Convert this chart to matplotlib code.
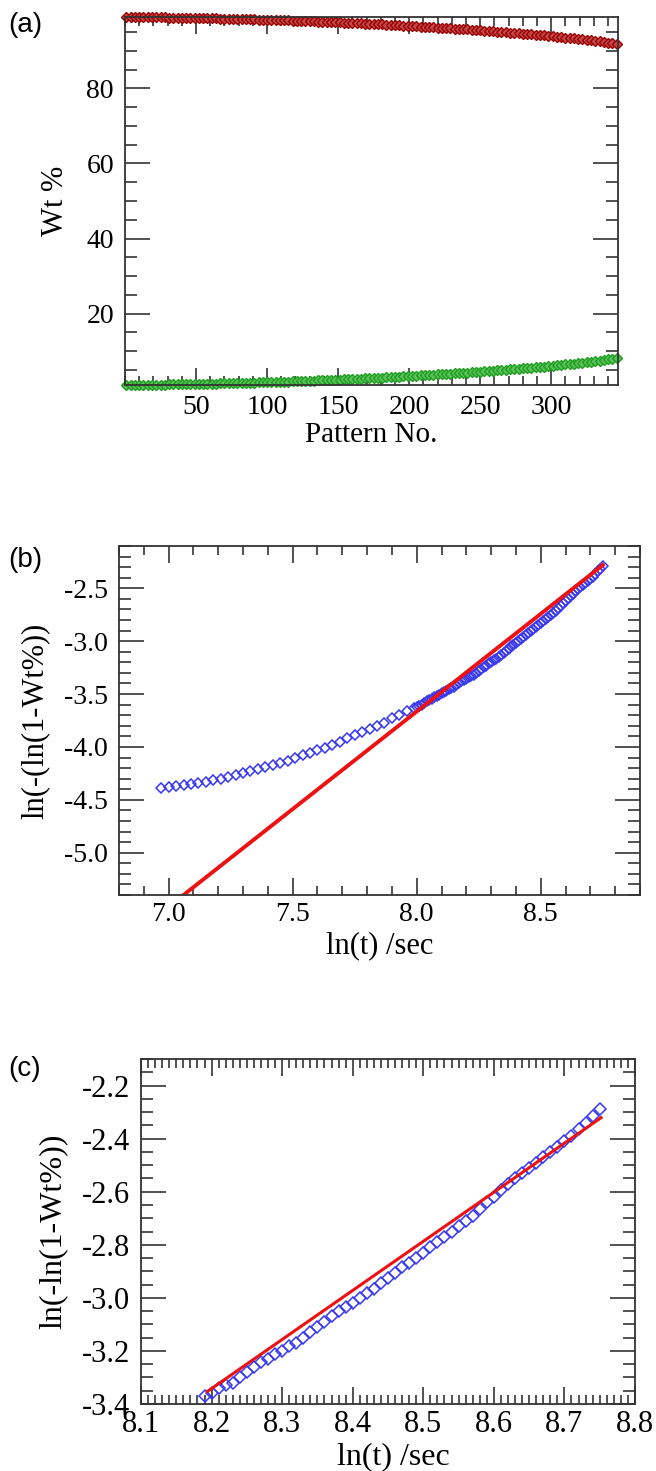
import matplotlib
matplotlib.use("Agg")
import numpy as np
import matplotlib.pyplot as plt
from matplotlib.ticker import MultipleLocator, FormatStrFormatter, FixedLocator

plt.rcParams['font.family'] = ['Liberation Serif', 'DejaVu Serif']
plt.rcParams['axes.unicode_minus'] = False

# ---- panel (a): phase weight fractions vs pattern number ----
pattern_no = [1, 4, 7, 10, 13, 16, 19, 22, 25, 28, 31, 34, 37, 40, 43, 46, 49, 52, 55, 58,
              61, 64, 67, 70, 73, 76, 79, 82, 85, 88, 91, 94, 97, 100, 103, 106, 109, 112,
              115, 118, 121, 124, 127, 130, 133, 136, 139, 142, 145, 148, 151, 154, 157, 160,
              163, 166, 169, 172, 175, 178, 181, 184, 187, 190, 193, 196, 199, 202, 205, 208,
              211, 214, 217, 220, 223, 226, 229, 232, 235, 238, 241, 244, 247, 250, 253, 256,
              259, 262, 265, 268, 271, 274, 277, 280, 283, 286, 289, 292, 295, 298, 301, 304,
              307, 310, 313, 316, 319, 322, 325, 328, 331, 334, 337, 340, 343, 346]
wt_parent = [99.00, 98.99, 98.98, 98.96, 98.95, 98.94, 98.93, 98.91, 98.90, 98.88, 98.86, 98.84,
             98.82, 98.80, 98.78, 98.76, 98.74, 98.71, 98.69, 98.66, 98.64, 98.62, 98.59, 98.56,
             98.53, 98.50, 98.47, 98.44, 98.41, 98.38, 98.35, 98.32, 98.29, 98.25, 98.22, 98.18,
             98.14, 98.11, 98.07, 98.03, 97.99, 97.95, 97.91, 97.86, 97.82, 97.78, 97.73, 97.68,
             97.64, 97.59, 97.54, 97.49, 97.44, 97.40, 97.34, 97.29, 97.24, 97.18, 97.13, 97.07,
             97.02, 96.96, 96.90, 96.84, 96.78, 96.72, 96.66, 96.60, 96.53, 96.47, 96.40, 96.33,
             96.27, 96.20, 96.13, 96.06, 95.99, 95.92, 95.84, 95.77, 95.69, 95.61, 95.53, 95.46,
             95.37, 95.29, 95.21, 95.12, 95.04, 94.95, 94.86, 94.77, 94.68, 94.58, 94.49, 94.39,
             94.29, 94.19, 94.08, 93.98, 93.87, 93.76, 93.64, 93.52, 93.40, 93.28, 93.15, 93.03,
             92.89, 92.76, 92.62, 92.48, 92.33, 92.18, 92.03, 91.87]
wt_new = [1.00, 1.01, 1.02, 1.04, 1.05, 1.06, 1.07, 1.09, 1.10, 1.12, 1.14, 1.16, 1.18, 1.20,
          1.22, 1.24, 1.26, 1.29, 1.31, 1.34, 1.36, 1.38, 1.41, 1.44, 1.47, 1.50, 1.53, 1.56,
          1.59, 1.62, 1.65, 1.68, 1.71, 1.75, 1.78, 1.82, 1.86, 1.89, 1.93, 1.97, 2.01, 2.05,
          2.09, 2.14, 2.18, 2.22, 2.27, 2.32, 2.36, 2.41, 2.46, 2.51, 2.56, 2.60, 2.66, 2.71,
          2.76, 2.82, 2.87, 2.93, 2.98, 3.04, 3.10, 3.16, 3.22, 3.28, 3.34, 3.40, 3.47, 3.53,
          3.60, 3.67, 3.73, 3.80, 3.87, 3.94, 4.01, 4.08, 4.16, 4.23, 4.31, 4.39, 4.47, 4.54,
          4.63, 4.71, 4.79, 4.88, 4.96, 5.05, 5.14, 5.23, 5.32, 5.42, 5.51, 5.61, 5.71, 5.81,
          5.92, 6.02, 6.13, 6.24, 6.36, 6.48, 6.60, 6.72, 6.85, 6.97, 7.11, 7.24, 7.38, 7.52,
          7.67, 7.82, 7.97, 8.13]

# ---- panels (b), (c): Avrami plot ----
ln_t = [6.97, 7.00, 7.03, 7.06, 7.09, 7.12, 7.15, 7.18, 7.21, 7.24, 7.27, 7.30, 7.33, 7.36,
        7.39, 7.42, 7.45, 7.48, 7.51, 7.54, 7.57, 7.60, 7.63, 7.66, 7.69, 7.72, 7.75, 7.78,
        7.81, 7.84, 7.87, 7.90, 7.93, 7.96, 7.99,
        8.00, 8.01, 8.02, 8.03, 8.04, 8.05, 8.06, 8.07, 8.08, 8.09, 8.10, 8.11, 8.12, 8.13,
        8.14, 8.15, 8.16, 8.17, 8.18, 8.19, 8.20, 8.21, 8.22, 8.23, 8.24, 8.25, 8.26, 8.27,
        8.28, 8.29, 8.30, 8.31, 8.32, 8.33, 8.34, 8.35, 8.36, 8.37, 8.38, 8.39, 8.40, 8.41,
        8.42, 8.43, 8.44, 8.45, 8.46, 8.47, 8.48, 8.49, 8.50, 8.51, 8.52, 8.53, 8.54, 8.55,
        8.56, 8.57, 8.58, 8.59, 8.60, 8.61, 8.62, 8.63, 8.64, 8.65, 8.66, 8.67, 8.68, 8.69,
        8.70, 8.71, 8.72, 8.73, 8.74, 8.75]
avrami = [-4.39, -4.38, -4.37, -4.36, -4.35, -4.34, -4.33, -4.31, -4.30, -4.28, -4.27, -4.25,
          -4.23, -4.21, -4.19, -4.17, -4.15, -4.13, -4.10, -4.08, -4.06, -4.03, -4.01, -3.98,
          -3.95, -3.92, -3.89, -3.86, -3.83, -3.80, -3.77, -3.73, -3.70, -3.66, -3.63,
          -3.62, -3.61, -3.60, -3.58, -3.57, -3.56, -3.55, -3.53, -3.52, -3.51, -3.49, -3.48,
          -3.47, -3.45, -3.44, -3.43, -3.41, -3.40, -3.38, -3.37, -3.36, -3.34, -3.33, -3.32,
          -3.30, -3.28, -3.26, -3.24, -3.23, -3.21, -3.20, -3.18, -3.17, -3.15, -3.13, -3.11,
          -3.09, -3.07, -3.05, -3.035, -3.02, -3.00, -2.98, -2.965, -2.945, -2.925, -2.905,
          -2.885, -2.87, -2.85, -2.83, -2.81, -2.79, -2.77, -2.75, -2.73, -2.71, -2.69, -2.665,
          -2.64, -2.62, -2.595, -2.57, -2.55, -2.53, -2.51, -2.49, -2.47, -2.45, -2.43, -2.41,
          -2.39, -2.365, -2.34, -2.315, -2.29]

# linear fits (end points of the red lines)
fit_b_x = [7.06, 8.75]
fit_b_y = [-5.40, -2.28]
fit_c_x = [8.194, 8.752]
fit_c_y = [-3.353, -2.321]
fit_c_start = 8.19

W, H = 656, 1471
fig = plt.figure(figsize=(W / 100, H / 100), dpi=100)


def box(x0, y0, x1, y1):
    # pixel box -> figure fraction
    return [x0 / W, 1 - y1 / H, (x1 - x0) / W, (y1 - y0) / H]


def style(ax, size):
    ax.tick_params(which='both', direction='in', top=True, right=True, width=1.2,
                   color='#333333', labelsize=size)
    ax.tick_params(axis='x', which='major', length=12, pad=6)
    ax.tick_params(axis='x', which='minor', length=6.5)
    ax.tick_params(axis='y', which='major', length=18, pad=8)
    ax.tick_params(axis='y', which='minor', length=8.5)
    for s in ax.spines.values():
        s.set_linewidth(1.3)
        s.set_color('#333333')


# (a)
ax1 = fig.add_axes(box(125, 17, 618, 385))
ax1.plot(pattern_no, wt_parent, 'D', ms=5.5, mfc='#c04848', mec='#9c0000', mew=1.0, clip_on=False)
ax1.plot(pattern_no, wt_new, 'D', ms=5.5, mfc='#5cc05c', mec='#1e9e1e', mew=1.0, clip_on=False)
ax1.set_xlim(0, 347)
ax1.set_ylim(1.0, 99.0)
ax1.xaxis.set_major_locator(FixedLocator([50, 100, 150, 200, 250, 300]))
ax1.xaxis.set_minor_locator(MultipleLocator(10))
ax1.yaxis.set_major_locator(FixedLocator([20, 40, 60, 80]))
ax1.yaxis.set_minor_locator(MultipleLocator(5))
style(ax1, 20)
ax1.tick_params(axis='x', which='major', pad=7.5)
ax1.set_xlabel('Pattern No.', fontsize=21, va='center')
ax1.xaxis.set_label_coords(0.5, -0.136)
ax1.set_ylabel('Wt %', fontsize=22, va='center')
ax1.yaxis.set_label_coords(-0.140, 0.5)

# (b)
ax2 = fig.add_axes(box(119, 546, 640, 895))
ax2.plot(ln_t, avrami, 'D', ms=5.5, mfc='none', mec='#3838ee', mew=1.1)
ax2.plot(fit_b_x, fit_b_y, '-', color='#ee1111', lw=2.8)
ax2.set_xlim(6.8, 8.9)
ax2.set_ylim(-5.4, -2.1)
ax2.xaxis.set_major_locator(MultipleLocator(0.5))
ax2.xaxis.set_minor_locator(MultipleLocator(0.1))
ax2.yaxis.set_major_locator(MultipleLocator(0.5))
ax2.yaxis.set_minor_locator(MultipleLocator(0.1))
ax2.xaxis.set_major_formatter(FormatStrFormatter('%.1f'))
ax2.yaxis.set_major_formatter(FormatStrFormatter('%.1f'))
style(ax2, 20)
ax2.tick_params(axis='x', which='major', pad=5)
ax2.set_xlabel('ln(t) /sec', fontsize=22, va='center')
ax2.xaxis.set_label_coords(0.5, -0.145)
ax2.set_ylabel('ln(-(ln(1-Wt%))', fontsize=22, va='center')
ax2.yaxis.set_label_coords(-0.161, 0.5)

# (c)
x_arr = np.array(ln_t)
y_arr = np.array(avrami)
keep = x_arr >= fit_c_start
ax3 = fig.add_axes(box(141, 1059, 635, 1404))
ax3.plot(x_arr[keep], y_arr[keep], 'D', ms=6.5, mfc='none', mec='#3838ee', mew=1.1)
ax3.plot(fit_c_x, fit_c_y, '-', color='#ee1111', lw=2.2)
ax3.set_xlim(8.1, 8.8)
ax3.set_ylim(-3.4, -2.1)
ax3.xaxis.set_major_locator(MultipleLocator(0.1))
ax3.xaxis.set_minor_locator(MultipleLocator(0.01))
ax3.yaxis.set_major_locator(MultipleLocator(0.2))
ax3.yaxis.set_minor_locator(MultipleLocator(0.05))
ax3.xaxis.set_major_formatter(FormatStrFormatter('%.1f'))
ax3.yaxis.set_major_formatter(FormatStrFormatter('%.1f'))
style(ax3, 22)
ax3.tick_params(axis='x', which='major', pad=4)
ax3.set_xlabel('ln(t) /sec', fontsize=23, va='center')
ax3.xaxis.set_label_coords(0.51, -0.154)
ax3.set_ylabel('ln(-ln(1-Wt%))', fontsize=23, va='center')
ax3.yaxis.set_label_coords(-0.178, 0.5)

for lab, yc in [('(a)', 25), ('(b)', 560), ('(c)', 1069)]:
    fig.text(8 / W, 1 - yc / H, lab, fontsize=20, family='Liberation Sans', va='center', ha='left')

fig.savefig('out.png', dpi=100)
